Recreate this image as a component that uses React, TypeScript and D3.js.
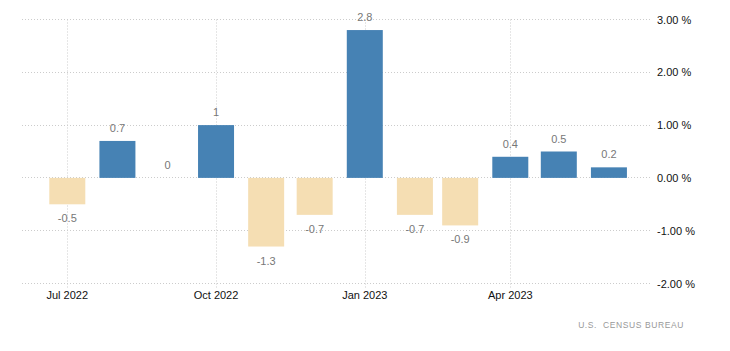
import React from "react";
import * as d3 from "d3";

const months = [
  "2022-07-01", "2022-08-01", "2022-09-01", "2022-10-01", "2022-11-01", "2022-12-01",
  "2023-01-01", "2023-02-01", "2023-03-01", "2023-04-01", "2023-05-01", "2023-06-01",
];
const values = [-0.5, 0.7, 0, 1, -1.3, -0.7, 2.8, -0.7, -0.9, 0.4, 0.5, 0.2];
const xTicks = ["2022-07-01", "2022-10-01", "2023-01-01", "2023-04-01"];
const yTicks = [3, 2, 1, 0, -1, -2];
const source = "U.S.  CENSUS BUREAU";

export default function App() {
  const svgRef = React.useRef<SVGSVGElement>(null);
  const width = 730;
  const height = 351;

  React.useEffect(() => {
    const svg = d3.select(svgRef.current);
    svg.selectAll("*").remove();

    const parse = d3.utcParse("%Y-%m-%d");
    const fmt = d3.utcFormat("%b %Y");
    const font = "'Liberation Sans', Arial, sans-serif";

    var plotLeft = 22;
    var plotRight = 652;
    var barWidth = 36;

    /* time scale anchored on two quarter ticks */
    var x = d3
      .scaleUtc()
      .domain([parse("2022-07-01"), parse("2023-04-01")])
      .range([67.3, 510.3]);

    var y = d3.scaleLinear().domain([-2, 3]).range([283.5, 19.5]);

    const grid = svg.append("g");

    /* horizontal grid */
    grid
      .selectAll(".hgrid")
      .data(yTicks)
      .enter()
      .append("line")
      .attr("x1", plotLeft)
      .attr("x2", plotRight)
      .attr("y1", (d) => y(d))
      .attr("y2", (d) => y(d))
      .attr("stroke", "#ccc")
      .attr("stroke-width", 1)
      .attr("stroke-dasharray", "1,2")
      .attr("shape-rendering", "crispEdges");

    /* vertical grid */
    grid
      .selectAll(".vgrid")
      .data(xTicks)
      .enter()
      .append("line")
      .attr("x1", (d) => Math.round(x(parse(d))) + 0.5)
      .attr("x2", (d) => Math.round(x(parse(d))) + 0.5)
      .attr("y1", y(3))
      .attr("y2", y(-2) + 4)
      .attr("stroke", "#ccc")
      .attr("stroke-width", 1)
      .attr("stroke-dasharray", "1,2");

    /* bars */
    svg
      .append("g")
      .selectAll("rect")
      .data(values)
      .enter()
      .append("rect")
      .attr("x", (d, i) => x(parse(months[i])) - barWidth / 2)
      .attr("width", barWidth)
      .attr("y", (d) => y(Math.max(0, d)))
      .attr("height", (d) => Math.abs(y(d) - y(0)))
      .attr("fill", (d) => (d >= 0 ? "#4682b4" : "#f5deb3"));

    /* value labels */
    svg
      .append("g")
      .selectAll("text")
      .data(values)
      .enter()
      .append("text")
      .attr("x", (d, i) => x(parse(months[i])))
      .attr("y", (d) => (d >= 0 ? y(d) - 9 : y(d) + 18))
      .attr("text-anchor", "middle")
      .attr("font-family", font)
      .attr("font-size", 11)
      .attr("fill", "#777")
      .text((d) => `${d}`);

    /* y labels on the right */
    svg
      .append("g")
      .selectAll("text")
      .data(yTicks)
      .enter()
      .append("text")
      .attr("x", plotRight + 5)
      .attr("y", (d) => y(d) + 4)
      .attr("font-family", font)
      .attr("font-size", 11)
      .attr("fill", "#111")
      .text((d) => `${d.toFixed(2)} %`);

    /* x labels */
    svg
      .append("g")
      .selectAll("text")
      .data(xTicks)
      .enter()
      .append("text")
      .attr("x", (d) => x(parse(d)))
      .attr("y", 299)
      .attr("text-anchor", "middle")
      .attr("font-family", font)
      .attr("font-size", 11)
      .attr("fill", "#111")
      .text((d) => fmt(parse(d)));

    /* source */
    svg
      .append("text")
      .attr("x", 684)
      .attr("y", 328)
      .attr("text-anchor", "end")
      .attr("font-family", font)
      .attr("font-size", 8.5)
      .attr("letter-spacing", 0.6)
      .attr("fill", "#999")
      .style("white-space", "pre")
      .text(source);
  }, []);

  return (
    <svg
      ref={svgRef}
      width={width}
      height={height}
      style={{ position: "absolute", left: 0, top: 0, background: "#fff" }}
    />
  );
}
